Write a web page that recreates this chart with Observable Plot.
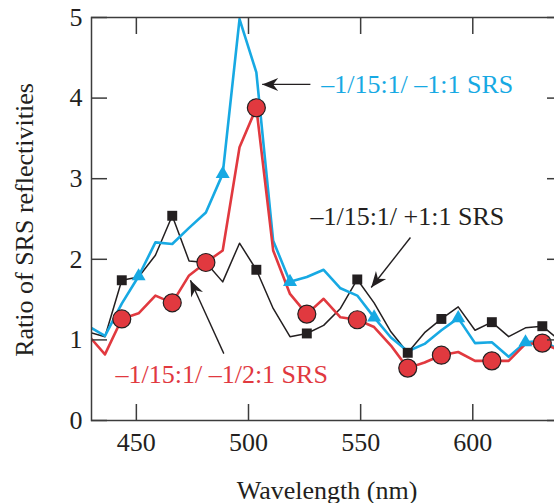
<!DOCTYPE html>
<html><head><meta charset="utf-8">
<script src="https://cdn.jsdelivr.net/npm/d3@7"></script>
<script src="https://cdn.jsdelivr.net/npm/@observablehq/plot@0.6"></script>
<style>
html,body{margin:0;padding:0;overflow:hidden;background:#fff;}
svg{max-width:none !important;}
</style></head><body><div id="chart"></div>
<script>
// Wavelength samples (nm)
const wavelength = [428.5, 436, 443.5, 451, 458.5, 466, 473.5, 481, 488.5, 496, 503.5, 511, 518.5, 526, 533.5, 541, 548.5, 556, 563.5, 571, 578.5, 586, 593.5, 601, 608.5, 616, 623.5, 631, 638.5];
// –1/15:1/ +1:1 SRS (black, squares)
const ratioPlus1 = [1.10, 1.04, 1.74, 1.78, 2.05, 2.54, 1.98, 1.96, 1.72, 2.20, 1.87, 1.39, 1.04, 1.08, 1.18, 1.39, 1.75, 1.46, 1.10, 0.84, 1.09, 1.26, 1.41, 1.12, 1.22, 1.04, 1.15, 1.17, 1.00];
// –1/15:1/ –1:1 SRS (blue, triangles)
const ratioMinus1 = [1.17, 1.05, 1.45, 1.79, 2.21, 2.19, 2.39, 2.58, 3.06, 4.98, 4.32, 2.23, 1.72, 1.78, 1.87, 1.64, 1.55, 1.28, 1.03, 0.86, 0.95, 1.12, 1.27, 0.96, 0.97, 0.79, 0.97, 0.99, 0.88];
// –1/15:1/ –1/2:1 SRS (red, circles)
const ratioMinusHalf = [1.06, 0.82, 1.26, 1.33, 1.55, 1.46, 1.80, 1.96, 2.11, 3.39, 3.88, 2.11, 1.57, 1.32, 1.51, 1.28, 1.25, 1.16, 0.93, 0.65, 0.72, 0.81, 0.85, 0.74, 0.74, 0.74, 0.95, 0.96, 0.87];
// wavelengths carrying a marker
const squareAt = [443.5, 466, 503.5, 526, 548.5, 571, 586, 608.5, 631];
const triangleAt = [451, 488.5, 518.5, 556, 593.5, 623.5];
const circleAt = [443.5, 466, 481, 503.5, 526, 548.5, 571, 586, 608.5, 631];
const xTicks = [450, 500, 550, 600];
const yTicks = [0, 1, 2, 3, 4, 5];
// annotations
const seriesLabels = ["–1/15:1/ –1:1 SRS", "–1/15:1/ +1:1 SRS", "–1/15:1/ –1/2:1 SRS"];
const labelX = [532.4, 527.6, 440.7];
const labelY = [4.06, 2.42, 0.47];
const arrowFromX = [527.6, 572.2, 489.0];
const arrowFromY = [4.17, 2.27, 0.83];
const arrowToX = [506.1, 554.7, 474.1];
const arrowToY = [4.17, 1.65, 1.74];

const BLACK = "#231f20", BLUE = "#17a9e3", RED = "#e1393f", AXIS = "#3c3c3c";
const labelColors = [BLUE, BLACK, RED];

const rows = wavelength.map((w, i) => ({w, black: ratioPlus1[i], blue: ratioMinus1[i], red: ratioMinusHalf[i]}));
const squares = rows.filter(d => squareAt.includes(d.w));
const triangles = rows.filter(d => triangleAt.includes(d.w));
const circles = rows.filter(d => circleAt.includes(d.w));
const labels = seriesLabels.map((t, i) => ({t, x: labelX[i], y: labelY[i], c: labelColors[i]}));
const arrows = arrowFromX.map((x, i) => ({x1: x, y1: arrowFromY[i], x2: arrowToX[i], y2: arrowToY[i]}));

function barb(color) {
  const m = d3.create("svg:marker")
    .attr("viewBox", "-17 -7 18 14")
    .attr("markerWidth", 18).attr("markerHeight", 14)
    .attr("markerUnits", "userSpaceOnUse")
    .attr("orient", "auto")
    .attr("refX", 0).attr("refY", 0);
  m.append("path").attr("d", "M0,0L-16,-6.5L-11,0L-16,6.5Z").attr("fill", color).attr("stroke", "none");
  return m.node();
}

const chart = Plot.plot({
  width: 570, height: 503,
  marginLeft: 91, marginRight: 8, marginTop: 17, marginBottom: 83,
  style: {fontFamily: "'Liberation Serif', 'Times New Roman', serif", fontSize: "26px", color: BLACK, background: "#fff"},
  x: {domain: [430, 640], axis: null},
  y: {domain: [0, 5], axis: null},
  marks: [
    Plot.line(rows, {x: "w", y: "black", stroke: BLACK, strokeWidth: 1.5, clip: true}),
    Plot.line(rows, {x: "w", y: "blue", stroke: BLUE, strokeWidth: 2.6, clip: true}),
    Plot.line(rows, {x: "w", y: "red", stroke: RED, strokeWidth: 2.6, clip: true}),
    Plot.dot(squares, {x: "w", y: "black", symbol: "square", r: 5.6, fill: BLACK}),
    Plot.dot(triangles, {x: "w", y: "blue", symbol: "triangle", r: 5.2, fill: BLUE}),
    Plot.dot(circles, {x: "w", y: "red", r: 9, fill: RED, stroke: BLACK, strokeWidth: 1.2}),
    Plot.link(arrows, {x1: "x1", y1: "y1", x2: "x2", y2: "y2", stroke: BLACK, strokeWidth: 1.4, markerEnd: barb}),
    Plot.text(labels, {x: "x", y: "y", text: "t", fill: "c", textAnchor: "start", lineAnchor: "bottom", fontSize: 26}),
    Plot.frame({stroke: AXIS, strokeWidth: 1.5}),
    Plot.axisX({anchor: "bottom", ticks: xTicks, tickSize: 0, tickPadding: 12, tickFormat: d3.format("d"), label: null, fontSize: 26, fill: BLACK}),
    Plot.axisX({anchor: "bottom", ticks: xTicks, tickSize: -16, tickFormat: () => "", label: null, stroke: AXIS, strokeWidth: 1.5}),
    Plot.axisX({anchor: "top", ticks: xTicks, tickSize: -16, tickFormat: () => "", label: null, stroke: AXIS, strokeWidth: 1.5}),
    Plot.axisY({anchor: "left", ticks: yTicks, tickSize: 0, tickPadding: 9, tickFormat: d3.format("d"), label: null, fontSize: 26, fill: BLACK}),
    Plot.axisY({anchor: "left", ticks: yTicks, tickSize: -16, tickFormat: () => "", label: null, stroke: AXIS, strokeWidth: 1.5}),
    Plot.axisY({anchor: "right", ticks: yTicks, tickSize: -16, tickFormat: () => "", label: null, stroke: AXIS, strokeWidth: 1.5}),
    Plot.text(["Wavelength (nm)"], {frameAnchor: "bottom", textAnchor: "middle", dy: 78, lineAnchor: "bottom", fontSize: 26, fill: BLACK}),
    Plot.text(["Ratio of SRS reflectivities"], {frameAnchor: "left", textAnchor: "middle", rotate: -90, dx: -59, dy: 1, lineAnchor: "bottom", fontSize: 26, fill: BLACK})
  ]
});
document.getElementById("chart").appendChild(chart);
</script></body></html>
